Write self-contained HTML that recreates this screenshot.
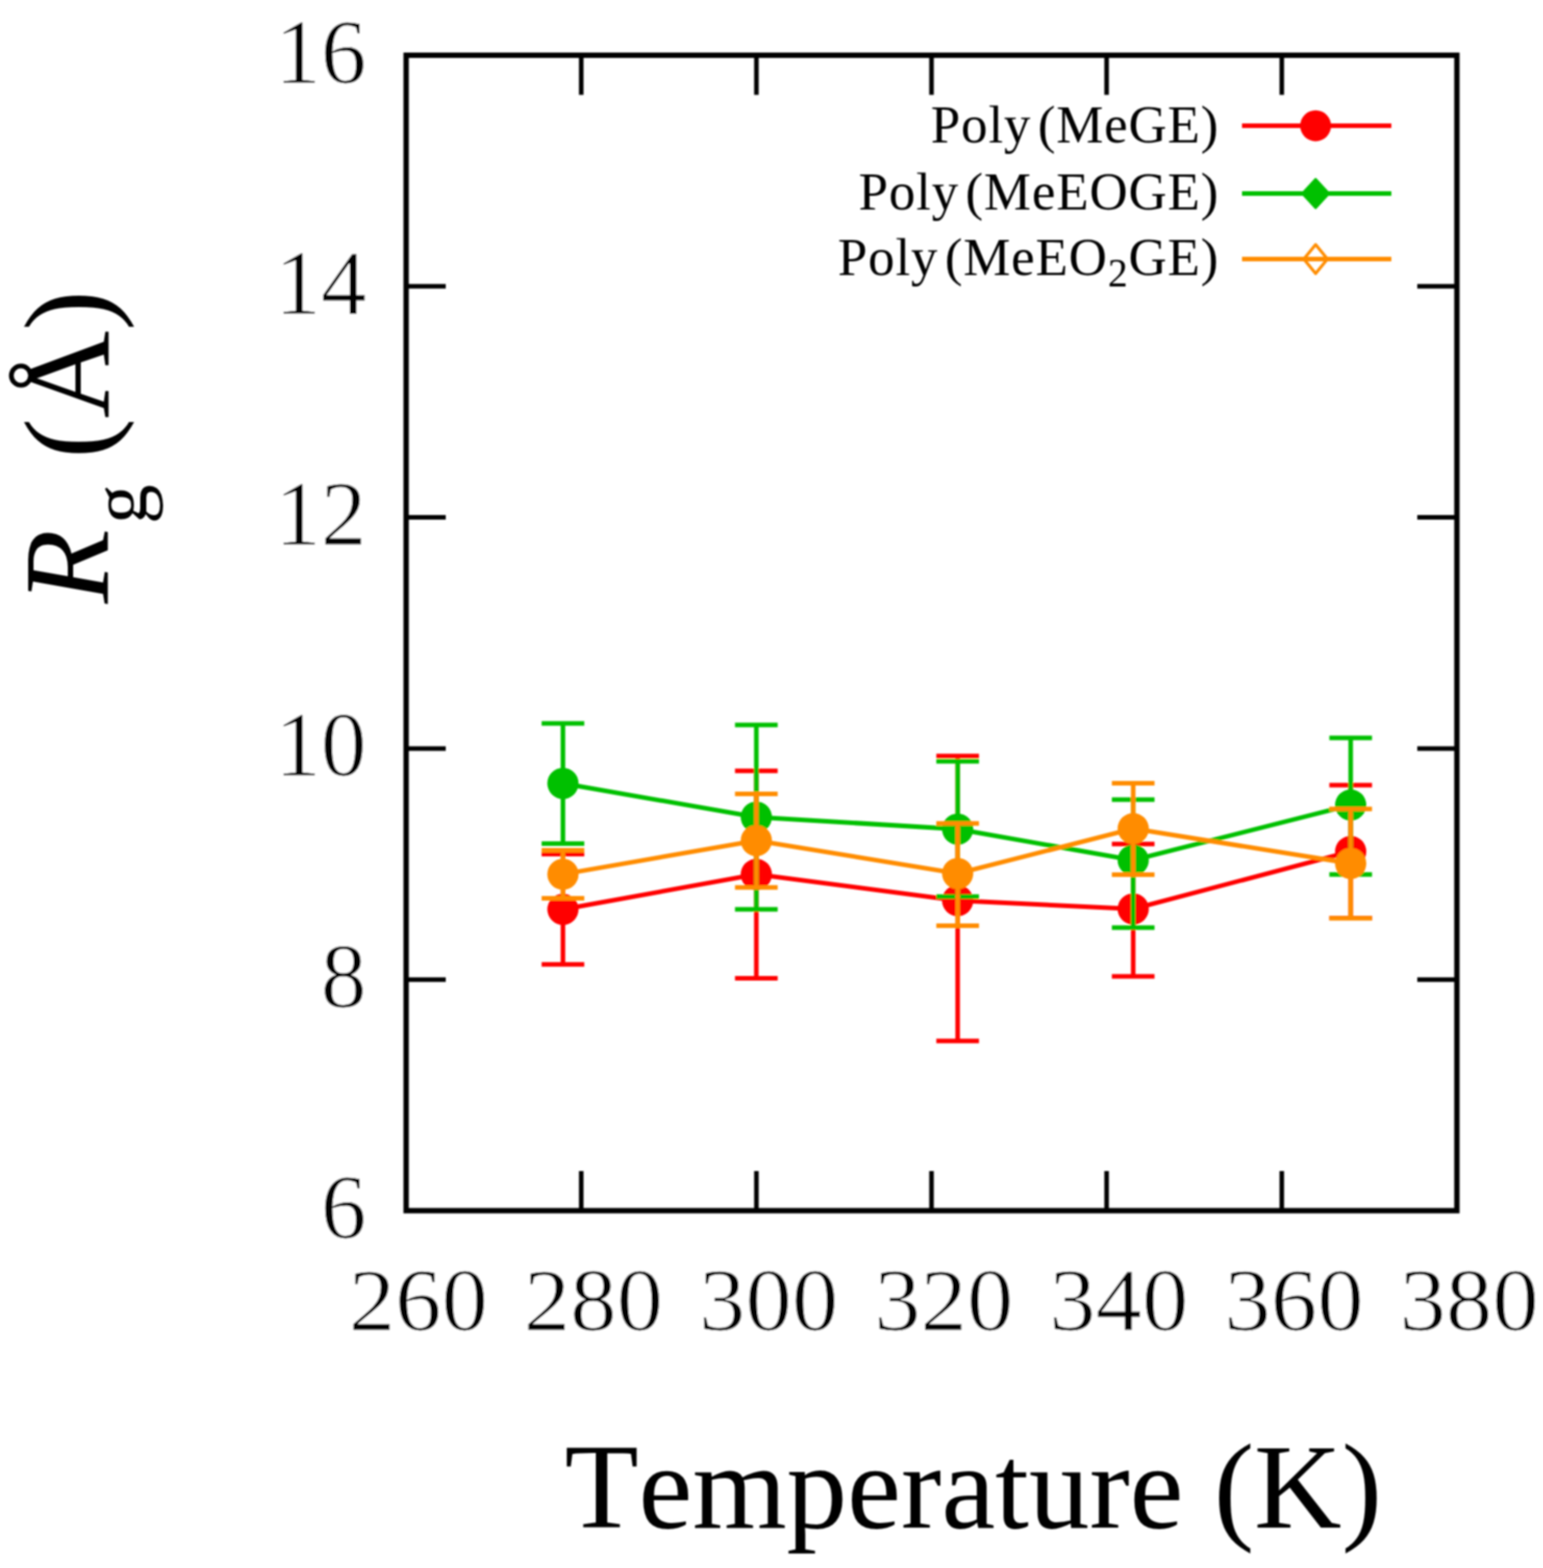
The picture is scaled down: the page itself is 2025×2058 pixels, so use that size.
<!DOCTYPE html>
<html><head><meta charset="utf-8"><style>html,body{margin:0;padding:0;background:#fff}svg{display:block}text{font-kerning:none}.tk text{stroke:#fff;stroke-width:1.2px}</style></head>
<body>
<svg width="2025" height="2058" viewBox="0 0 2025 2058">
<defs><filter id="bl" x="0" y="0" width="2025" height="2058" filterUnits="userSpaceOnUse"><feGaussianBlur stdDeviation="1"/></filter></defs>
<rect width="2025" height="2058" fill="#fff"/>
<g filter="url(#bl)">
<g stroke="#000" stroke-width="7" fill="none" stroke-linecap="square">
<rect x="533" y="72.5" width="1379" height="1516.5"/>
</g>
<g stroke="#000" stroke-width="6">
<line x1="533" y1="1285.7" x2="585" y2="1285.7"/>
<line x1="1912" y1="1285.7" x2="1860" y2="1285.7"/>
<line x1="533" y1="982.4" x2="585" y2="982.4"/>
<line x1="1912" y1="982.4" x2="1860" y2="982.4"/>
<line x1="533" y1="679.1" x2="585" y2="679.1"/>
<line x1="1912" y1="679.1" x2="1860" y2="679.1"/>
<line x1="533" y1="375.8" x2="585" y2="375.8"/>
<line x1="1912" y1="375.8" x2="1860" y2="375.8"/>
<line x1="762.8" y1="1589" x2="762.8" y2="1537"/>
<line x1="762.8" y1="72.5" x2="762.8" y2="124.5"/>
<line x1="992.7" y1="1589" x2="992.7" y2="1537"/>
<line x1="992.7" y1="72.5" x2="992.7" y2="124.5"/>
<line x1="1222.5" y1="1589" x2="1222.5" y2="1537"/>
<line x1="1222.5" y1="72.5" x2="1222.5" y2="124.5"/>
<line x1="1452.3" y1="1589" x2="1452.3" y2="1537"/>
<line x1="1452.3" y1="72.5" x2="1452.3" y2="124.5"/>
<line x1="1682.2" y1="1589" x2="1682.2" y2="1537"/>
<line x1="1682.2" y1="72.5" x2="1682.2" y2="124.5"/>
</g>
<g class="tk" font-family="Liberation Serif, serif" font-size="120" fill="#000">
<text x="481" y="1625.0" text-anchor="end">6</text>
<text x="481" y="1321.7" text-anchor="end">8</text>
<text x="481" y="1018.4" text-anchor="end">10</text>
<text x="481" y="715.1" text-anchor="end">12</text>
<text x="481" y="411.8" text-anchor="end">14</text>
<text x="481" y="108.5" text-anchor="end">16</text>
<text transform="translate(549.0,1746) scale(1.015,0.965)" text-anchor="middle">260</text>
<text transform="translate(778.8,1746) scale(1.015,0.965)" text-anchor="middle">280</text>
<text transform="translate(1008.7,1746) scale(1.015,0.965)" text-anchor="middle">300</text>
<text transform="translate(1238.5,1746) scale(1.015,0.965)" text-anchor="middle">320</text>
<text transform="translate(1468.3,1746) scale(1.015,0.965)" text-anchor="middle">340</text>
<text transform="translate(1698.2,1746) scale(1.015,0.965)" text-anchor="middle">360</text>
<text transform="translate(1928.0,1746) scale(1.015,0.965)" text-anchor="middle">380</text>
</g>
<text x="741" y="2005" font-family="Liberation Serif, serif" font-size="159">Temperature (K)</text>
<text class="yl" transform="translate(142,792) rotate(-90)" font-family="Liberation Serif, serif" font-size="159"><tspan font-style="italic">R</tspan><tspan font-size="104" dy="50" dx="7">g</tspan><tspan dy="-50" dx="34">(Å)</tspan></text>
<g stroke="#ff0000" stroke-width="6" fill="none">
<polyline points="738.8,1193.5 992.6,1147.6 1256.8,1182.0 1487.2,1193.0 1772.6,1117.6"/>
<path d="M738.8,1121.0V1265.7M710.8,1121.0H766.8M710.8,1265.7H766.8"/>
<path d="M992.6,1011.8V1284.1M964.6,1011.8H1020.6M964.6,1284.1H1020.6"/>
<path d="M1256.8,992.3V1366.3M1228.8,992.3H1284.8M1228.8,1366.3H1284.8"/>
<path d="M1487.2,1107.7V1281.4M1459.2,1107.7H1515.2M1459.2,1281.4H1515.2"/>
<path d="M1772.6,1030.5V1205.0M1744.6,1030.5H1800.6M1744.6,1205.0H1800.6"/>
</g>
<g fill="#ff0000">
<circle cx="738.8" cy="1193.5" r="20.5"/>
<circle cx="992.6" cy="1147.6" r="20.5"/>
<circle cx="1256.8" cy="1182.0" r="20.5"/>
<circle cx="1487.2" cy="1193.0" r="20.5"/>
<circle cx="1772.6" cy="1117.6" r="20.5"/>
</g>
<g stroke="#00c000" stroke-width="6" fill="none">
<polyline points="738.8,1028.2 992.6,1072.5 1256.8,1088.2 1487.2,1129.0 1772.6,1056.6"/>
<path d="M738.8,949.5V1107.2M710.8,949.5H766.8M710.8,1107.2H766.8"/>
<path d="M992.6,951.6V1193.4M964.6,951.6H1020.6M964.6,1193.4H1020.6"/>
<path d="M1256.8,999.3V1176.7M1228.8,999.3H1284.8M1228.8,1176.7H1284.8"/>
<path d="M1487.2,1049.5V1217.4M1459.2,1049.5H1515.2M1459.2,1217.4H1515.2"/>
<path d="M1772.6,968.4V1147.8M1744.6,968.4H1800.6M1744.6,1147.8H1800.6"/>
</g>
<g fill="#00c000">
<circle cx="738.8" cy="1028.2" r="20.5"/>
<circle cx="992.6" cy="1072.5" r="20.5"/>
<circle cx="1256.8" cy="1088.2" r="20.5"/>
<circle cx="1487.2" cy="1129.0" r="20.5"/>
<circle cx="1772.6" cy="1056.6" r="20.5"/>
</g>
<g stroke="#ff8c00" stroke-width="6" fill="none">
<polyline points="738.8,1147.4 992.6,1103.2 1256.8,1146.5 1487.2,1087.6 1772.6,1133.3"/>
<path d="M738.8,1116.0V1178.9M710.8,1116.0H766.8M710.8,1178.9H766.8"/>
<path d="M992.6,1042.1V1164.8M964.6,1042.1H1020.6M964.6,1164.8H1020.6"/>
<path d="M1256.8,1080.7V1215.1M1228.8,1080.7H1284.8M1228.8,1215.1H1284.8"/>
<path d="M1487.2,1027.9V1148.1M1459.2,1027.9H1515.2M1459.2,1148.1H1515.2"/>
<path d="M1772.6,1061.8V1205.2M1744.6,1061.8H1800.6M1744.6,1205.2H1800.6"/>
</g>
<g fill="#ff8c00">
<circle cx="738.8" cy="1147.4" r="20.5"/>
<circle cx="992.6" cy="1103.2" r="20.5"/>
<circle cx="1256.8" cy="1146.5" r="20.5"/>
<circle cx="1487.2" cy="1087.6" r="20.5"/>
<circle cx="1772.6" cy="1133.3" r="20.5"/>
</g>
<line x1="1630" y1="165.1" x2="1826" y2="165.1" stroke="#ff0000" stroke-width="6"/>
<circle cx="1726.6" cy="165.1" r="20.3" fill="#ff0000"/>
<text class="lg" x="1600.1" y="186.5" text-anchor="end" font-family="Liberation Serif, serif" font-size="69.5" letter-spacing="1.1" word-spacing="-10">Poly (MeGE)</text>
<line x1="1630" y1="254" x2="1826" y2="254" stroke="#00c000" stroke-width="6"/>
<path d="M1726.6,235L1744.1,254L1726.6,273L1709.1,254Z" fill="#00c000" stroke="#00c000" stroke-width="3" stroke-linejoin="round"/>
<text class="lg" x="1600.1" y="275.4" text-anchor="end" font-family="Liberation Serif, serif" font-size="69.5" letter-spacing="1.1" word-spacing="-10">Poly (MeEOGE)</text>
<line x1="1630" y1="340" x2="1826" y2="340" stroke="#ff8c00" stroke-width="6"/>
<path d="M1726.6,321L1742.1,340L1726.6,359L1711.1,340Z" fill="none" stroke="#ff8c00" stroke-width="4" stroke-linejoin="round"/>
<text class="lg" x="1600.1" y="361.4" text-anchor="end" font-family="Liberation Serif, serif" font-size="69.5" letter-spacing="1.1" word-spacing="-10">Poly (MeEO<tspan font-size="52" dy="15">2</tspan><tspan dy="-15">GE)</tspan></text>
</g>
</svg>
</body></html>
